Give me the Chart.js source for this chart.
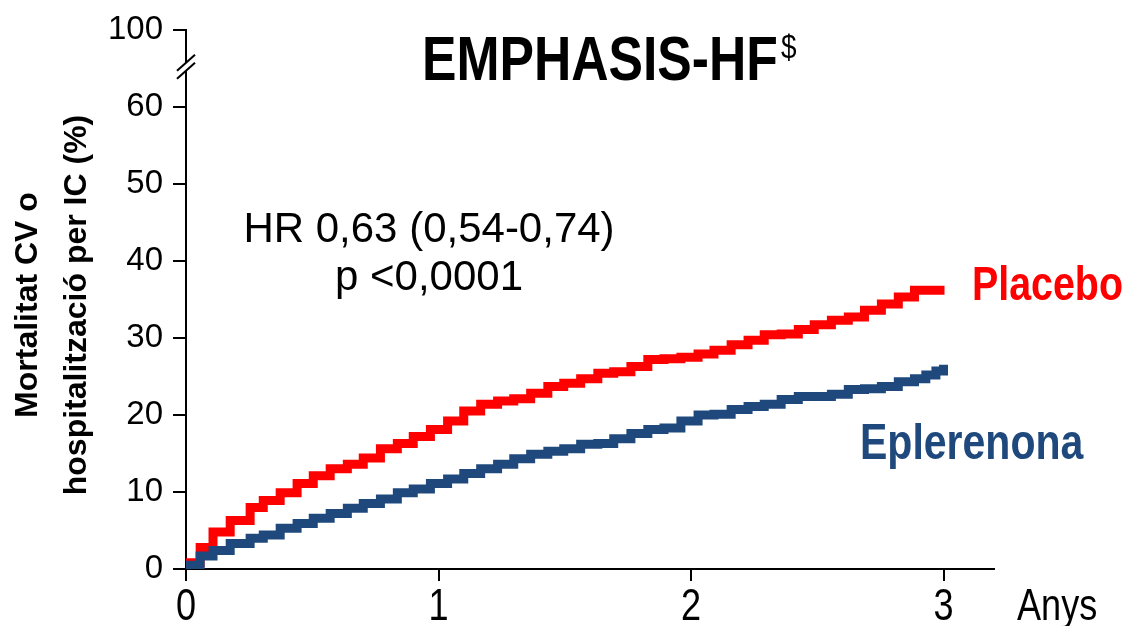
<!DOCTYPE html>
<html>
<head>
<meta charset="utf-8">
<script src="https://cdn.jsdelivr.net/npm/chart.js@4"></script>
<style>
  html, body { margin: 0; padding: 0; background: #fff; }
  #wrap { width: 1132px; height: 626px; }
</style>
</head>
<body>
<div id="wrap"><canvas id="kmChart" width="1132" height="626"></canvas></div>
<script>
// Kaplan-Meier readings (years, % with event)
const placeboYears = [0, 0.016, 0.056, 0.107, 0.175, 0.254, 0.306, 0.373, 0.44, 0.504, 0.571, 0.639, 0.702, 0.77, 0.837, 0.90, 0.968, 1.036, 1.10, 1.167, 1.234, 1.298, 1.365, 1.433, 1.496, 1.563, 1.631, 1.694, 1.762, 1.829, 1.893, 1.96, 2.028, 2.091, 2.159, 2.226, 2.29, 2.357, 2.425, 2.488, 2.556, 2.623, 2.687, 2.754, 2.821, 2.885, 2.952, 3.004];
const placeboPct = [0, 0.8, 2.8, 4.8, 6.3, 8.0, 8.9, 9.9, 11.1, 12.1, 13.0, 13.6, 14.4, 15.6, 16.3, 17.2, 18.1, 19.2, 20.5, 21.4, 21.8, 22.1, 22.8, 23.7, 24.1, 24.7, 25.4, 25.6, 26.3, 27.2, 27.3, 27.5, 27.9, 28.4, 29.1, 29.7, 30.4, 30.5, 31.1, 31.7, 32.3, 32.7, 33.6, 34.4, 35.3, 36.2, 36.2, 36.2];

const eplerenonaYears = [0, 0.016, 0.056, 0.107, 0.175, 0.254, 0.306, 0.373, 0.44, 0.504, 0.571, 0.639, 0.702, 0.77, 0.837, 0.90, 0.968, 1.036, 1.10, 1.167, 1.234, 1.298, 1.365, 1.433, 1.496, 1.563, 1.631, 1.694, 1.762, 1.829, 1.893, 1.96, 2.028, 2.091, 2.159, 2.226, 2.29, 2.357, 2.425, 2.488, 2.556, 2.623, 2.687, 2.754, 2.821, 2.885, 2.93, 2.97, 3.0];
const eplerenonaPct = [0, 0.5, 1.7, 2.4, 3.3, 4.0, 4.4, 5.3, 5.9, 6.6, 7.2, 7.9, 8.5, 9.1, 9.9, 10.4, 11.1, 11.7, 12.4, 13.0, 13.6, 14.3, 14.9, 15.3, 15.6, 16.2, 16.3, 16.9, 17.6, 18.1, 18.3, 19.2, 20.0, 20.1, 20.7, 21.1, 21.4, 22.0, 22.4, 22.4, 22.7, 23.3, 23.4, 23.7, 24.3, 24.7, 25.2, 25.7, 26.5];

const xTicks = [0, 1, 2, 3];
const xTickLabels = ['0', '1', '2', '3'];
const yTicks = [0, 10, 20, 30, 40, 50, 60, 70];
const yTickLabels = ['0', '10', '20', '30', '40', '50', '60', '100']; // axis broken between 60 and 100

const RED = '#FF0000';
const BLUE = '#1F497D';
const NARROW = 0.82;

const toPoints = (xs, ys) => xs.map((x, i) => ({ x: x, y: ys[i] }));

// no condensed face installed, so squeeze Liberation Sans horizontally
const drawNarrow = (ctx, text, x, y, font, align) => {
    ctx.save();
    ctx.font = font;
    const w = ctx.measureText(text).width * NARROW;
    let left = x;
    if (align === 'center') left = x - w / 2;
    if (align === 'right') left = x - w;
    ctx.translate(left, y);
    ctx.scale(NARROW, 1);
    ctx.textAlign = 'left';
    ctx.fillText(text, 0, 0);
    ctx.restore();
    return w;
};

const textPlugin = {
    id: 'textPlugin',
    afterDraw(chart) {
        const ctx = chart.ctx;
        const xScale = chart.scales.x;
        const yScale = chart.scales.y;
        const xLeft = chart.chartArea.left;
        ctx.save();

        // axis break between 60 and "100"
        const yb = yScale.getPixelForValue(65.2);
        ctx.fillStyle = '#fff';
        ctx.fillRect(xLeft - 3, yb - 4, 6, 8);
        ctx.strokeStyle = '#000';
        ctx.lineWidth = 2;
        [-4, 4].forEach(off => {
            ctx.beginPath();
            ctx.moveTo(xLeft - 9, yb + off + 8);
            ctx.lineTo(xLeft + 9, yb + off - 8);
            ctx.stroke();
        });

        ctx.fillStyle = '#000';
        ctx.textBaseline = 'alphabetic';

        // x tick labels and unit
        const xFont = "44px 'Liberation Sans'";
        xTicks.forEach((v, i) => {
            drawNarrow(ctx, xTickLabels[i], xScale.getPixelForValue(v), 620, xFont, 'center');
        });
        drawNarrow(ctx, 'Anys', 1017, 620, xFont, 'left');

        // title
        const tw = drawNarrow(ctx, 'EMPHASIS-HF', 422, 80, "bold 63px 'Liberation Sans'", 'left');
        drawNarrow(ctx, '$', 422 + tw + 3, 58, "34px 'Liberation Sans'", 'left');

        // HR annotation
        ctx.font = "42px 'Liberation Sans'";
        ctx.textAlign = 'center';
        ctx.fillText('HR 0,63 (0,54-0,74)', 429, 242);
        ctx.fillText('p <0,0001', 429, 290);

        // series labels
        ctx.fillStyle = RED;
        drawNarrow(ctx, 'Placebo', 972, 300, "bold 48px 'Liberation Sans'", 'left');
        ctx.fillStyle = BLUE;
        drawNarrow(ctx, 'Eplerenona', 860, 459, "bold 50px 'Liberation Sans'", 'left');

        // y axis title
        ctx.fillStyle = '#000';
        ctx.translate(0, 305);
        ctx.rotate(-Math.PI / 2);
        ctx.textAlign = 'center';
        ctx.font = "bold 32px 'Liberation Sans'";
        ctx.fillText('Mortalitat CV o', 0, 37);
        ctx.fillText('hospitalització per IC (%)', 0, 86);

        ctx.restore();
    }
};

const config = {
    type: 'line',
    data: {
        datasets: [
            {
                label: 'Eplerenona',
                data: toPoints(eplerenonaYears, eplerenonaPct),
                borderColor: BLUE,
                borderWidth: 9,
                stepped: true,
                pointRadius: 0,
                fill: false,
            },
            {
                label: 'Placebo',
                data: toPoints(placeboYears, placeboPct),
                borderColor: RED,
                borderWidth: 9,
                stepped: true,
                pointRadius: 0,
                fill: false,
            }
        ]
    },
    options: {
        responsive: false,
        animation: false,
        devicePixelRatio: 1,
        layout: { padding: { left: 0, top: 27, right: 138, bottom: 0 } },
        plugins: {
            legend: { display: false },
            tooltip: { enabled: false },
        },
        scales: {
            x: {
                type: 'linear',
                min: 0,
                max: 3.2,
                afterFit: (scale) => { scale.height = 57; },
                afterBuildTicks: (scale) => { scale.ticks = xTicks.map(v => ({ value: v })); },
                ticks: { display: false },
                grid: { drawOnChartArea: false, tickLength: 12, color: '#000', lineWidth: 2 },
                border: { color: '#000', width: 2 },
            },
            y: {
                min: 0,
                max: 70,
                afterFit: (scale) => { scale.width = 186; },
                afterBuildTicks: (scale) => { scale.ticks = yTicks.map(v => ({ value: v })); },
                ticks: {
                    color: '#000',
                    padding: 10,
                    font: { family: "'Liberation Sans'", size: 33 },
                    callback: (v) => yTickLabels[yTicks.indexOf(v)],
                },
                grid: { drawOnChartArea: false, tickLength: 13, color: '#000', lineWidth: 2 },
                border: { color: '#000', width: 2 },
            }
        }
    },
    plugins: [textPlugin]
};

new Chart(document.getElementById('kmChart').getContext('2d'), config);
</script>
</body>
</html>
